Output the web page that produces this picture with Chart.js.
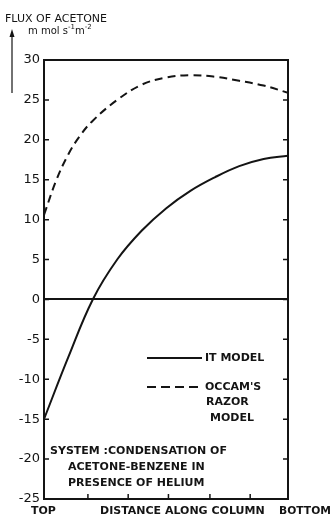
<!DOCTYPE html>
<html>
<head>
    <meta charset="UTF-8">
    <title>Flux of acetone</title>
    <style>
        html, body {
            margin: 0;
            padding: 0;
            background: #ffffff;
        }
        canvas {
            display: block;
        }
    </style>
    <script src="https://cdn.jsdelivr.net/npm/chart.js"></script>
    <script>
        // position along the column (0 = top, 10 = bottom)
        var itDistance = [0, 1, 2, 3, 4, 5, 6, 7, 8, 9, 10];
        var itModel = [-15, -7.2, 0, 5.0, 8.6, 11.4, 13.6, 15.3, 16.7, 17.6, 18.0];

        var occamDistance = [0, 0.5, 1, 1.5, 2, 3, 4, 5, 6, 7, 8, 9, 10];
        var occamModel = [10.6, 14.9, 18.2, 20.6, 22.4, 25.0, 26.9, 27.8, 28.1, 27.9, 27.4, 26.8, 25.9];

        var yTicks = [-25, -20, -15, -10, -5, 0, 5, 10, 15, 20, 25, 30];
        var xTickMarks = [1.8, 3.45, 5.1, 6.8, 8.45];
        var xLabels = ['TOP', 'DISTANCE ALONG COLUMN', 'BOTTOM'];
        var seriesNames = ['IT MODEL', "OCCAM'S", 'RAZOR', 'MODEL'];
        var noteLines = ['SYSTEM :CONDENSATION OF', 'ACETONE-BENZENE IN', 'PRESENCE OF HELIUM'];

        function toPoints(xs, ys) {
            var pts = [];
            for (var i = 0; i < xs.length; i++) {
                pts.push({x: xs[i], y: ys[i]});
            }
            return pts;
        }

        var INK = '#141414';
        var FONT = '"DejaVu Sans", sans-serif';

        // frame, inward ticks and all the lettering
        var decorations = {
            id: 'decorations',
            afterDraw: function(chart) {
                var ctx = chart.ctx;
                var a = chart.chartArea;
                var ys = chart.scales.y;
                var xs = chart.scales.x;
                ctx.save();
                ctx.strokeStyle = INK;
                ctx.fillStyle = INK;
                ctx.lineWidth = 2;

                // top and right frame
                ctx.beginPath();
                ctx.moveTo(a.left, a.top);
                ctx.lineTo(a.right, a.top);
                ctx.lineTo(a.right, a.bottom);
                ctx.stroke();

                // inward ticks on both vertical axes
                ctx.lineWidth = 1.5;
                for (var i = 0; i < yTicks.length; i++) {
                    var v = yTicks[i];
                    if (v === 30 || v === -25) continue;
                    var py = ys.getPixelForValue(v);
                    ctx.beginPath();
                    ctx.moveTo(a.left, py);
                    ctx.lineTo(a.left + 5, py);
                    ctx.moveTo(a.right, py);
                    ctx.lineTo(a.right - 5, py);
                    ctx.stroke();
                }
                for (var j = 0; j < xTickMarks.length; j++) {
                    var px = xs.getPixelForValue(xTickMarks[j]);
                    ctx.beginPath();
                    ctx.moveTo(px, a.bottom);
                    ctx.lineTo(px, a.bottom - 5);
                    ctx.stroke();
                }

                // axis title with arrow
                ctx.lineWidth = 1.2;
                ctx.beginPath();
                ctx.moveTo(12, 34);
                ctx.lineTo(12, 93);
                ctx.stroke();
                ctx.beginPath();
                ctx.moveTo(12, 29);
                ctx.lineTo(9.5, 37);
                ctx.lineTo(14.5, 37);
                ctx.closePath();
                ctx.fill();

                ctx.textBaseline = 'alphabetic';
                ctx.textAlign = 'left';
                ctx.font = '11px ' + FONT;
                ctx.fillText('FLUX OF ACETONE', 5, 22, 107);
                ctx.font = '10px ' + FONT;
                var ux = 28;
                ctx.fillText('m mol s', ux, 34);
                ux += ctx.measureText('m mol s').width;
                ctx.font = '7px ' + FONT;
                ctx.fillText('-1', ux, 29);
                ux += ctx.measureText('-1').width;
                ctx.font = '10px ' + FONT;
                ctx.fillText('m', ux, 34);
                ux += ctx.measureText('m').width;
                ctx.font = '7px ' + FONT;
                ctx.fillText('-2', ux, 29);

                // legend
                ctx.lineWidth = 2;
                ctx.beginPath();
                ctx.moveTo(147, 358);
                ctx.lineTo(202, 358);
                ctx.stroke();
                ctx.setLineDash([9, 5]);
                ctx.beginPath();
                ctx.moveTo(147, 387);
                ctx.lineTo(200, 387);
                ctx.stroke();
                ctx.setLineDash([]);

                ctx.font = 'bold 11px ' + FONT;
                ctx.textBaseline = 'middle';
                ctx.fillText(seriesNames[0], 205, 358, 67);
                ctx.fillText(seriesNames[1], 205, 387, 62);
                ctx.fillText(seriesNames[2], 206, 402, 46);
                ctx.fillText(seriesNames[3], 210, 418, 48);

                // system note
                ctx.fillText(noteLines[0], 50, 451, 188);
                ctx.fillText(noteLines[1], 68, 467, 165);
                ctx.fillText(noteLines[2], 68, 483, 156);

                // bottom labels
                ctx.font = 'bold 11px ' + FONT;
                ctx.fillText(xLabels[0], 31, 511, 32);
                ctx.fillText(xLabels[1], 100, 511, 168);
                ctx.fillText(xLabels[2], 279, 511, 52);

                ctx.restore();
            }
        };

        window.onload = function() {
            var ctx = document.getElementById('flux-chart').getContext('2d');
            new Chart(ctx, {
                type: 'line',
                data: {
                    datasets: [{
                        label: 'IT MODEL',
                        data: toPoints(itDistance, itModel),
                        borderColor: INK,
                        borderWidth: 2,
                        pointRadius: 0,
                        fill: false,
                        tension: 0.4
                    }, {
                        label: "OCCAM'S RAZOR MODEL",
                        data: toPoints(occamDistance, occamModel),
                        borderColor: INK,
                        borderWidth: 2,
                        borderDash: [8, 5],
                        pointRadius: 0,
                        fill: false,
                        tension: 0.4
                    }]
                },
                options: {
                    responsive: false,
                    animation: false,
                    layout: {
                        padding: {top: 60, left: 0, right: 0, bottom: 0}
                    },
                    plugins: {
                        legend: {display: false},
                        tooltip: {enabled: false}
                    },
                    scales: {
                        x: {
                            type: 'linear',
                            min: 0,
                            max: 10,
                            ticks: {display: false},
                            grid: {display: false, drawTicks: false},
                            border: {display: true, color: INK, width: 2},
                            afterFit: function(scale) { scale.height = 19; }
                        },
                        y: {
                            min: -25,
                            max: 30,
                            afterBuildTicks: function(scale) {
                                scale.ticks = yTicks.map(function(v) { return {value: v}; });
                            },
                            ticks: {
                                color: INK,
                                padding: 4,
                                font: {family: 'DejaVu Sans', size: 13},
                                callback: function(v) {
                                    return v < 0 ? '-' + Math.abs(v) : String(v);
                                }
                            },
                            grid: {
                                drawTicks: false,
                                lineWidth: 2,
                                color: function(c) {
                                    return c.tick && c.tick.value === 0 ? INK : 'rgba(0,0,0,0)';
                                }
                            },
                            border: {display: true, color: INK, width: 2},
                            afterFit: function(scale) { scale.width = 44; }
                        },
                        y2: {
                            position: 'right',
                            min: -25,
                            max: 30,
                            ticks: {display: false},
                            grid: {display: false, drawTicks: false},
                            border: {display: false},
                            afterFit: function(scale) { scale.width = 43; }
                        }
                    }
                },
                plugins: [decorations]
            });
        };
    </script>
</head>
<body>
<canvas id="flux-chart" width="331" height="518"></canvas>
</body>
</html>
